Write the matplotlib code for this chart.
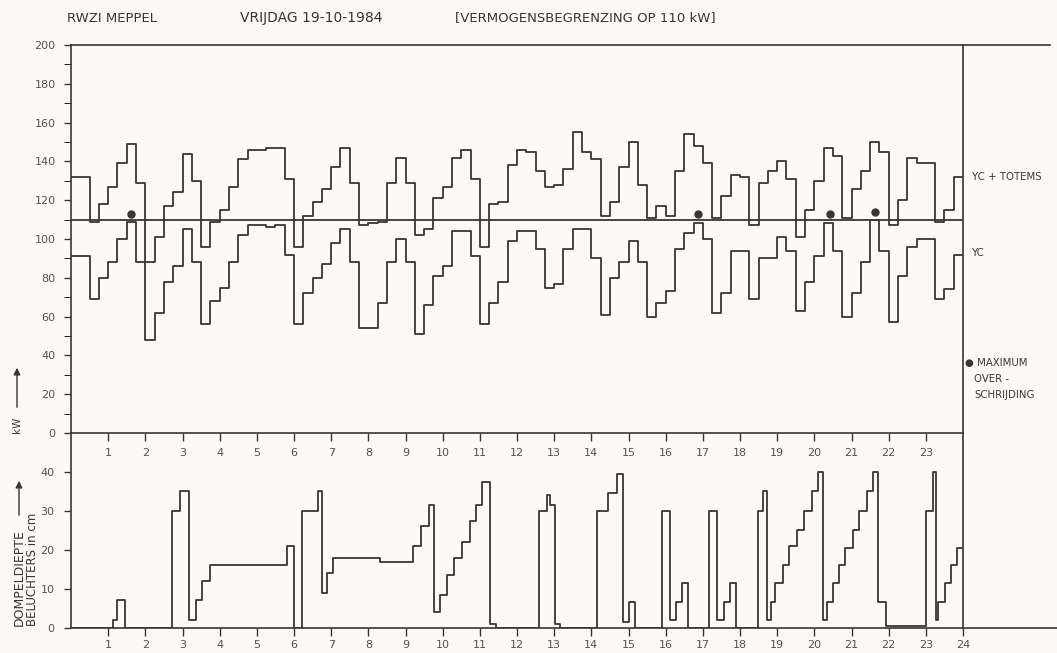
import matplotlib
matplotlib.use("Agg")
import matplotlib.pyplot as plt
import numpy as np
from matplotlib.lines import Line2D
from matplotlib.ticker import MultipleLocator

# RWZI Meppel, vrijdag 19-10-1984 - quarter-hour power readings (kW)
hours_q = np.arange(0, 24, 0.25)

yc_totems = [132, 132, 109, 118, 127, 139, 149, 129,
             88, 101, 117, 124, 144, 130, 96, 109,
             115, 127, 141, 146, 146, 147, 147, 131,
             96, 112, 119, 126, 137, 147, 129, 107,
             108, 109, 129, 142, 129, 102, 105, 121,
             127, 142, 146, 131, 96, 118, 119, 138,
             146, 145, 135, 127, 128, 136, 155, 145,
             141, 112, 119, 137, 150, 128, 111, 117,
             112, 135, 154, 148, 139, 111, 122, 133,
             132, 107, 129, 135, 140, 131, 101, 115,
             130, 147, 143, 111, 126, 135, 150, 145,
             107, 120, 142, 139, 139, 109, 115, 132]

yc = [91, 91, 69, 80, 88, 100, 109, 88,
      48, 62, 78, 86, 105, 88, 56, 68,
      75, 88, 102, 107, 107, 106, 107, 92,
      56, 72, 80, 87, 98, 105, 88, 54,
      54, 67, 88, 100, 88, 51, 66, 81,
      86, 104, 104, 91, 56, 67, 78, 99,
      104, 104, 95, 75, 77, 95, 105, 105,
      90, 61, 80, 88, 99, 88, 60, 67,
      73, 95, 103, 108, 100, 62, 72, 94,
      94, 69, 90, 90, 101, 94, 63, 78,
      91, 108, 94, 60, 72, 88, 110, 94,
      57, 81, 96, 100, 100, 69, 74, 92]

limit_kw = 110
overshoot_t = [1.62, 16.88, 20.42, 21.62]
overshoot_kw = [113, 113, 113, 114]

# immersion depth of the aerators (cm), change times in hours
depth_t = [0, 1.14, 1.25, 1.45, 2.71, 2.93, 3.18, 3.36, 3.52, 3.74,
           5.80, 6.01, 6.21, 6.65, 6.74, 6.88, 7.06, 8.31, 9.19, 9.42,
           9.64, 9.78, 9.93, 10.12, 10.30, 10.51, 10.73, 10.91, 11.07, 11.27,
           11.43, 12.60, 12.81, 12.90, 13.02, 13.17, 14.14, 14.45, 14.68, 14.84,
           15.02, 15.17, 15.89, 16.12, 16.28, 16.43, 16.61, 17.17, 17.37, 17.57,
           17.73, 17.89, 18.49, 18.63, 18.73, 18.83, 18.94, 19.15, 19.32, 19.54,
           19.72, 19.95, 20.10, 20.23, 20.33, 20.49, 20.67, 20.82, 21.03, 21.21,
           21.41, 21.58, 21.72, 21.93, 23.00, 23.18, 23.27, 23.33, 23.51, 23.69,
           23.85]
depth_cm = [0, 2, 7, 0, 30, 35, 2, 7, 12, 16,
            21, 0, 30, 35, 9, 14, 18, 17, 21, 26,
            31.5, 4, 8.5, 13.5, 18, 22, 27.5, 31.5, 37.5, 1,
            0, 30, 34, 31.5, 1, 0, 30, 34.5, 39.5, 1.5,
            6.5, 0, 30, 2, 6.5, 11.5, 0, 30, 2, 6.5,
            11.5, 0, 30, 35, 2, 6.5, 11.5, 16, 21, 25,
            30, 35, 40, 2, 6.5, 11.5, 16, 20.5, 25, 30,
            35, 40, 6.5, 0.5, 30, 40, 2, 6.5, 11.5, 16,
            20.5]

ink = '#3a3532'
grey = '#55514e'
bg = '#fbfaf6'
W, H = 1057, 653

fig = plt.figure(figsize=(W / 100, H / 100), dpi=100, facecolor=bg)
ax1 = fig.add_axes([71 / W, 1 - 433 / H, 892 / W, 388 / H])
ax2 = fig.add_axes([71 / W, 1 - 627.7 / H, 892 / W, 194.7 / H])

def stairs(ax, t, v):
    ax.step(list(t) + [24], list(v) + [v[-1]], where='post', color=ink, lw=1.3)

stairs(ax1, hours_q, yc_totems)
stairs(ax1, hours_q, yc)
ax1.axhline(limit_kw, color=ink, lw=1.3)
ax1.plot(overshoot_t, overshoot_kw, 'o', color=ink, ms=5)

stairs(ax2, depth_t, depth_cm)

for ax in (ax1, ax2):
    ax.set_facecolor('none')
    ax.set_xlim(0, 24)
    for s in ax.spines.values():
        s.set_color(ink)
        s.set_linewidth(1.2)
    ax.tick_params(colors=ink, labelcolor=grey, labelsize=8, width=1)

ax1.set_ylim(0, 200)
ax1.yaxis.set_major_locator(MultipleLocator(20))
ax1.yaxis.set_minor_locator(MultipleLocator(10))
ax1.set_xticks(range(1, 24))
ax1.tick_params(axis='y', which='both', length=5, pad=6)
ax1.tick_params(axis='x', length=6, pad=4.5)

ax2.set_ylim(0, 50)
ax2.set_yticks([0, 10, 20, 30, 40])
ax2.set_xticks(range(1, 25))
ax2.spines['top'].set_visible(False)
ax2.tick_params(axis='y', length=5, pad=7)
ax2.tick_params(axis='x', length=6, pad=3)

# frame lines running into the annotation column
fig.add_artist(Line2D([963 / W, 1050 / W], [1 - 45 / H, 1 - 45 / H], color=ink, lw=1.2))
fig.add_artist(Line2D([963 / W, 1.0], [1 - 627.7 / H, 1 - 627.7 / H], color=ink, lw=1.2))

fig.text(67 / W, 1 - 18 / H, 'RWZI MEPPEL', fontsize=9.5, color=ink, va='center')
fig.text(240 / W, 1 - 18 / H, 'VRIJDAG 19-10-1984', fontsize=10, color=ink, va='center')
fig.text(455 / W, 1 - 18 / H, '[VERMOGENSBEGRENZING OP 110 kW]', fontsize=9.5, color=ink, va='center')

fig.text(972 / W, 1 - 177 / H, 'YC + TOTEMS', fontsize=7.3, color=ink, va='center')
fig.text(972 / W, 1 - 253 / H, 'YC', fontsize=7.3, color=ink, va='center')
fig.text(965 / W, 1 - 363 / H, '\u25cf MAXIMUM', fontsize=7.3, color=ink, va='center')
fig.text(974 / W, 1 - 379 / H, 'OVER -', fontsize=7.3, color=ink, va='center')
fig.text(974 / W, 1 - 395 / H, 'SCHRIJDING', fontsize=7.3, color=ink, va='center')

# axis captions with arrows
fig.text(17 / W, 1 - 433 / H, 'kW', fontsize=7.5, color=ink, rotation=90, ha='center', va='bottom')
fig.add_artist(plt.Annotation('', xy=(17 / W, 1 - 365 / H), xytext=(17 / W, 1 - 410 / H),
                              xycoords='figure fraction', textcoords='figure fraction',
                              arrowprops=dict(arrowstyle='-|>', color=ink, lw=1)))
fig.text(19 / W, 1 - 626 / H, 'DOMPELDIEPTE', fontsize=9, color=ink, rotation=90, ha='center', va='bottom')
fig.add_artist(plt.Annotation('', xy=(19 / W, 1 - 478 / H), xytext=(19 / W, 1 - 518 / H),
                              xycoords='figure fraction', textcoords='figure fraction',
                              arrowprops=dict(arrowstyle='-|>', color=ink, lw=1)))
fig.text(33 / W, 1 - 626 / H, 'BELUCHTERS in cm', fontsize=8.5, color=ink, rotation=90, ha='center', va='bottom')

fig.savefig('out.png', dpi=100, facecolor=bg)
